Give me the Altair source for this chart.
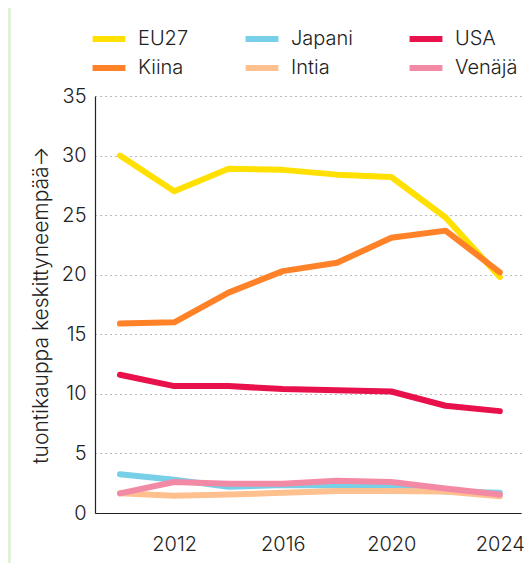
import altair as alt
import pandas as pd

years = [2010, 2012, 2014, 2016, 2018, 2020, 2022, 2024]
series = ["EU27", "Japani", "USA", "Kiina", "Intia", "Venäjä"]
colors = ["#ffe000", "#78cfe8", "#e8114b", "#ff8228", "#ffc090", "#f38aa5"]

eu27 = [30.0, 27.0, 28.9, 28.8, 28.4, 28.2, 24.8, 19.8]
japani = [3.25, 2.8, 2.2, 2.35, 2.3, 2.2, 1.8, 1.7]
usa = [11.6, 10.65, 10.65, 10.4, 10.3, 10.2, 9.0, 8.55]
kiina = [15.9, 16.0, 18.5, 20.3, 21.0, 23.1, 23.7, 20.2]
intia = [1.65, 1.45, 1.55, 1.7, 1.85, 1.85, 1.8, 1.4]
venaja = [1.65, 2.6, 2.45, 2.45, 2.7, 2.6, 2.05, 1.55]

values = [eu27, japani, usa, kiina, intia, venaja]
rows = []
for name, vals in zip(series, values):
    for yr, v in zip(years, vals):
        rows.append({"vuosi": yr, "arvo": v, "sarja": name})
df = pd.DataFrame(rows)

FONT = "Inter"
FS = 20
FW = 300
W, H = 426, 417

bg = alt.Chart(pd.DataFrame({"a": [0]})).mark_rect(color="#e2f2d6", clip=False).encode(
    x=alt.value(-87), x2=alt.value(-84), y=alt.value(-88), y2=alt.value(H + 60)
)

lines = alt.Chart(df).mark_line(strokeWidth=6, strokeCap="round", strokeJoin="round").encode(
    x=alt.X("vuosi:Q", scale=alt.Scale(domain=[2009.08, 2024.78], nice=False, zero=False),
            axis=alt.Axis(values=[2012, 2016, 2020, 2024], format="d", title=None,
                          grid=False, ticks=False, domain=True, domainColor="#222",
                          domainWidth=1.2, labelFontSize=FS, labelColor="#222",
                          labelFontWeight=FW, labelPadding=21, labelFont=FONT)),
    y=alt.Y("arvo:Q", scale=alt.Scale(domain=[0, 35], nice=False),
            axis=alt.Axis(values=[0, 5, 10, 15, 20, 25, 30, 35],
                          title="tuontikauppa keskittyneempää→",
                          titleFont=FONT, titleFontSize=21, titleFontWeight=FW,
                          titleColor="#222", titlePadding=10,
                          grid=True, gridDash=[1, 4], gridColor="#777", gridWidth=1,
                          ticks=False, domain=True, domainColor="#222", domainWidth=1.2,
                          labelFontSize=FS, labelFontWeight=FW, labelColor="#222",
                          labelPadding=9, labelFont=FONT)),
    color=alt.Color("sarja:N", sort=series,
                    scale=alt.Scale(domain=series, range=colors),
                    legend=alt.Legend(title=None, orient="none", legendX=-3, legendY=-74,
                                      columns=3, direction="horizontal",
                                      symbolType="M-1.2,0H1.2", symbolStrokeWidth=6,
                                      symbolSize=750, labelFontSize=FS,
                                      labelFontWeight=FW,
                                      labelFont=FONT, labelColor="#222",
                                      columnPadding=44, rowPadding=0,
                                      labelOffset=12, symbolOffset=0)),
    order=alt.Order("vuosi:Q"),
    detail="sarja:N",
)

chart = alt.layer(bg, lines).properties(
    width=W, height=H,
    autosize=alt.AutoSizeParams(type="none"),
    padding={"left": 87, "top": 88, "right": 3, "bottom": 50},
    background="white",
).configure_view(stroke=None)

chart.save("out.html", embed_options={"renderer": "svg", "actions": False})
